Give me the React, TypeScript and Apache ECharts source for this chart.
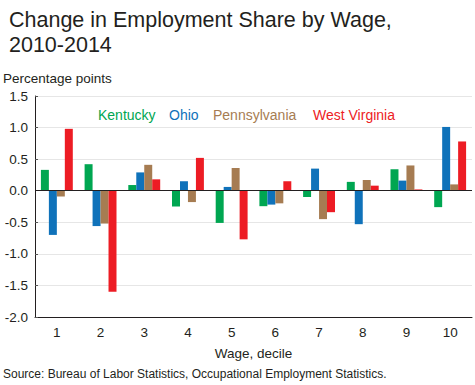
import React, { useEffect, useRef } from "react";
import * as echarts from "echarts";

const deciles = ["1", "2", "3", "4", "5", "6", "7", "8", "9", "10"];
const kentucky = [0.33, 0.42, 0.09, -0.25, -0.51, -0.245, -0.1, 0.14, 0.34, -0.26];
const ohio = [-0.7, -0.56, 0.29, 0.15, 0.06, -0.22, 0.35, -0.53, 0.16, 1.01];
const pennsylvania = [-0.09, -0.52, 0.41, -0.18, 0.36, -0.2, -0.45, 0.17, 0.4, 0.1];
const westVirginia = [0.98, -1.6, 0.18, 0.52, -0.77, 0.15, -0.34, 0.08, 0.02, 0.78];

const seriesNames = ["Kentucky", "Ohio", "Pennsylvania", "West Virginia"];
const seriesColors = ["#00a651", "#0f72ba", "#a67c52", "#ed1c24"];
const legendX = [98, 169, 213, 313];

const FONT = "Liberation Sans, Arial, sans-serif";
const TXT = "#231f20";

export default function App() {
  const ref = useRef<HTMLDivElement>(null);
  useEffect(() => {
    if (!ref.current) return;
    const chart = echarts.init(ref.current, null, { renderer: "svg" });
    const values = [kentucky, ohio, pennsylvania, westVirginia];
    chart.setOption({
      animation: false,
      backgroundColor: "#ffffff",
      textStyle: { fontFamily: FONT },
      title: {
        text: "Change in Employment Share by Wage,\n2010-2014",
        left: 4,
        top: 2,
        textStyle: { fontSize: 21.5, fontWeight: "normal", color: TXT, lineHeight: 25, fontFamily: FONT },
      },
      grid: { left: 35, right: 3, top: 96, bottom: 68, containLabel: false },
      xAxis: {
        type: "category",
        data: deciles,
        name: "Wage, decile",
        nameLocation: "middle",
        nameGap: 29,
        nameTextStyle: { fontSize: 13.5, color: TXT, fontFamily: FONT },
        axisLine: { onZero: false, lineStyle: { color: "#231f20", width: 1 } },
        axisTick: { inside: true, length: 4, lineStyle: { color: "#555" } },
        axisLabel: { fontSize: 13.5, color: TXT, margin: 8, fontFamily: FONT },
      },
      yAxis: {
        type: "value",
        min: -2,
        max: 1.5,
        interval: 0.5,
        axisLine: { show: true, lineStyle: { color: "#231f20", width: 1 } },
        axisTick: { show: true, inside: true, length: 3, lineStyle: { color: "#555" } },
        axisLabel: {
          fontSize: 13.5,
          color: TXT,
          margin: 7,
          fontFamily: FONT,
          formatter: (v: number) => v.toFixed(1),
        },
        splitLine: { show: true, lineStyle: { color: "#e6e6e6", width: 1 } },
      },
      series: values.map((vals, i) => ({
        name: seriesNames[i],
        type: "bar",
        data: vals,
        barGap: "0%",
        barCategoryGap: "27%",
        itemStyle: { color: seriesColors[i] },
        ...(i === 0
          ? {
              markLine: {
                silent: true,
                symbol: "none",
                label: { show: false },
                lineStyle: { color: "#231f20", width: 1, type: "solid" },
                data: [{ yAxis: 0 }],
                z: 10,
              },
            }
          : {}),
      })),
      graphic: [
        {
          type: "text",
          left: 3,
          top: 71,
          style: { text: "Percentage points", fontSize: 13.5, fill: TXT, fontFamily: FONT },
        },
        ...seriesNames.map((n, i) => ({
          type: "text",
          left: legendX[i],
          top: 108,
          style: { text: n, fontSize: 14, fill: seriesColors[i], fontFamily: FONT },
        })),
        {
          type: "text",
          left: 3,
          top: 368,
          style: {
            text: "Source: Bureau of Labor Statistics, Occupational Employment Statistics.",
            fontSize: 12,
            fill: TXT,
            fontFamily: FONT,
          },
        },
      ],
    });
    return () => chart.dispose();
  }, []);
  return (
    <div
      ref={ref}
      style={{ position: "fixed", left: 0, top: 0, width: 475, height: 385 }}
    />
  );
}
